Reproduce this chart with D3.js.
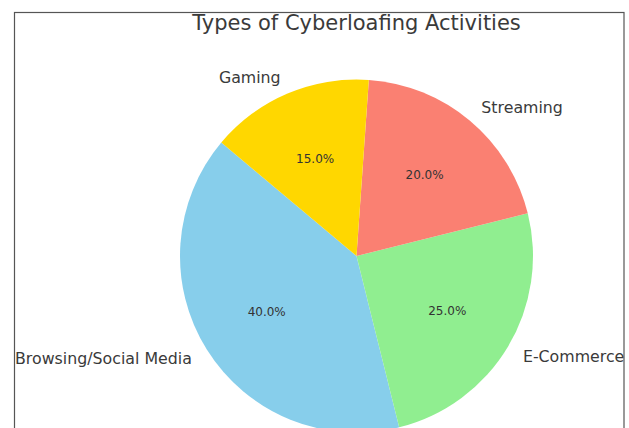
<!DOCTYPE html>
<html>
<head>
<meta charset="utf-8">
<script src="https://cdn.jsdelivr.net/npm/d3@7"></script>
<style>
  body { margin: 0; background: #fff; }
  text { font-family: "DejaVu Sans", sans-serif; fill: #333; }
</style>
</head>
<body>
<div id="chart"></div>
<script>
var width = 629;
var height = 428;

var categories = ["Browsing/Social Media", "E-Commerce", "Streaming", "Gaming"];
var shares = [40, 25, 20, 15];
var colours = ["#87CEEB", "#90EE90", "#FA8072", "#FFD700"];
var title = "Types of Cyberloafing Activities";

var cx = 356.5, cy = 256, radius = 176.5;
var startAngle = 140; // degrees, counterclockwise from +x like matplotlib

var svg = d3.select("#chart")
  .append("svg")
  .attr("width", width)
  .attr("height", height);

// screenshot frame
svg.append("rect")
  .attr("x", 14.5).attr("y", 12.5)
  .attr("width", 609.5).attr("height", 430)
  .attr("fill", "none")
  .attr("stroke", "#555")
  .attr("stroke-width", 1.2);

var data = categories.map((c, i) => ({ name: c, value: shares[i], colour: colours[i] }));

// matplotlib goes counterclockwise from startAngle; d3 goes clockwise from 12 o'clock
var toD3 = (deg) => (90 - deg) * Math.PI / 180;
var pie = d3.pie()
  .value((d) => d.value)
  .sort(null)
  .startAngle(toD3(startAngle))
  .endAngle(toD3(startAngle) - 2 * Math.PI);

var arcs = pie(data);
var arc = d3.arc().innerRadius(0).outerRadius(radius);

var g = svg.append("g").attr("transform", `translate(${cx},${cy})`);

g.selectAll("path")
  .data(arcs)
  .join("path")
  .attr("d", arc)
  .attr("fill", (d) => d.data.colour);

function midPoint(d, dist) {
  var a = (d.startAngle + d.endAngle) / 2;
  return [Math.sin(a) * dist, -Math.cos(a) * dist];
}

g.selectAll("text.label")
  .data(arcs)
  .join("text")
  .attr("class", "label")
  .attr("x", (d) => midPoint(d, radius * 1.1)[0])
  .attr("y", (d) => midPoint(d, radius * 1.1)[1])
  .attr("dy", "0.35em")
  .attr("text-anchor", (d) => midPoint(d, 1)[0] < 0 ? "end" : "start")
  .style("font-size", "15.8px")
  .style("fill", "#3a3a3a")
  .text((d) => d.data.name);

g.selectAll("text.pct")
  .data(arcs)
  .join("text")
  .attr("class", "pct")
  .attr("x", (d) => midPoint(d, radius * 0.6)[0])
  .attr("y", (d) => midPoint(d, radius * 0.6)[1])
  .attr("dy", "0.35em")
  .attr("text-anchor", "middle")
  .style("font-size", "12px")
  .text((d) => d.data.value.toFixed(1) + "%");

svg.append("text")
  .attr("x", cx)
  .attr("y", 30)
  .attr("text-anchor", "middle")
  .style("font-size", "21px")
  .style("fill", "#3a3a3a")
  .text(title);
</script>
</body>
</html>
